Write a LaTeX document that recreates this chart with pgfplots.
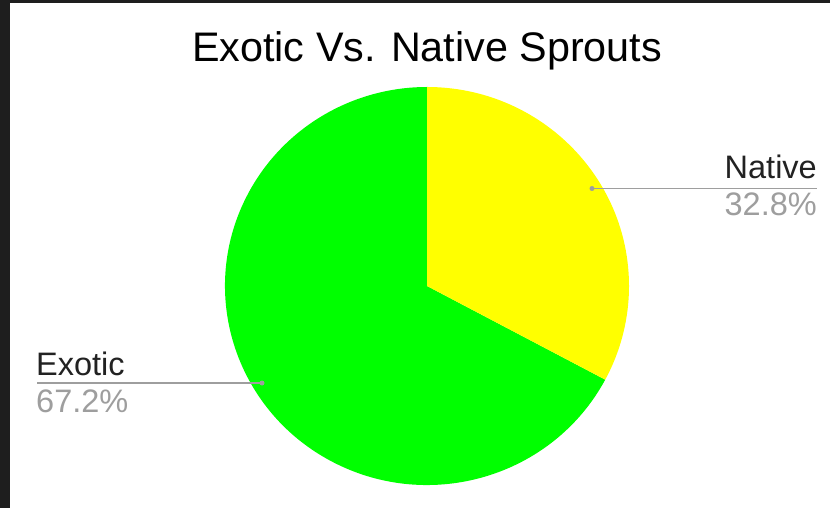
\documentclass[border=0pt]{standalone}
\usepackage{pgfplots}
\usepackage{pgfplotstable}
\pgfplotsset{compat=1.18}
\usepackage{fontspec}
\setmainfont{Liberation Sans}
\definecolor{frame}{HTML}{1E1E1E}
\definecolor{pctgray}{HTML}{9E9E9E}
\definecolor{txt}{HTML}{222222}
\definecolor{pgreen}{HTML}{00FF00}
\definecolor{pyellow}{HTML}{FFFF00}
\pgfplotstableread{
label value
Native 32.8
Exotic 67.2
}\piedata
\begin{document}
\begin{tikzpicture}
\pgfplotstablegetelem{0}{value}\of\piedata
\pgfmathsetmacro{\nat}{\pgfplotsretval}
\pgfplotstablegetelem{1}{value}\of\piedata
\pgfmathsetmacro{\exo}{\pgfplotsretval}
\pgfmathsetmacro{\endA}{90-3.6*\nat}
\pgfmathsetmacro{\endB}{\endA-3.6*\exo}
\begin{axis}[
  scale only axis, width=830bp, height=508bp,
  xmin=0, xmax=830, ymin=0, ymax=508,
  hide axis, clip=false,
]
\fill[white] (axis cs:0,0) rectangle (axis cs:830,508);
\fill[frame] (axis cs:0,0) rectangle (axis cs:10,508);
\fill[frame] (axis cs:0,505) rectangle (axis cs:830,508);
% pie
\fill[pgreen] (axis cs:427,222) -- ++({202bp*cos(\endA)},{199bp*sin(\endA)}) arc[start angle=\endA, end angle=\endB, x radius=202bp, y radius=199bp] -- cycle;
\fill[pyellow] (axis cs:427,222) -- ++(0bp,199bp) arc[start angle=90, end angle=\endA, x radius=202bp, y radius=199bp] -- cycle;
% title
\node[anchor=base, font=\fontsize{41.3bp}{48bp}\selectfont, text=black, inner sep=0pt] at (axis cs:427,446) {Exotic Vs. Native Sprouts};
% Native label
\draw[pctgray, line width=1.2bp] (axis cs:592,319.5) -- (axis cs:817,319.5);
\fill[pctgray] (axis cs:592,319.5) circle[radius=2.5bp];
\node[anchor=base east, font=\fontsize{32.5bp}{38bp}\selectfont, text=txt, inner sep=0pt] at (axis cs:817,329) {Native};
\node[anchor=base east, font=\fontsize{32.5bp}{38bp}\selectfont, text=pctgray, inner sep=0pt] at (axis cs:817,292) {32.8\%};
% Exotic label
\draw[pctgray, line width=1.2bp] (axis cs:37,125) -- (axis cs:262,125);
\fill[pctgray] (axis cs:262,125) circle[radius=2.5bp];
\node[anchor=base west, font=\fontsize{32.5bp}{38bp}\selectfont, text=txt, inner sep=0pt] at (axis cs:36,133) {Exotic};
\node[anchor=base west, font=\fontsize{32.5bp}{38bp}\selectfont, text=pctgray, inner sep=0pt] at (axis cs:36,96) {67.2\%};
\end{axis}
\end{tikzpicture}
\end{document}
